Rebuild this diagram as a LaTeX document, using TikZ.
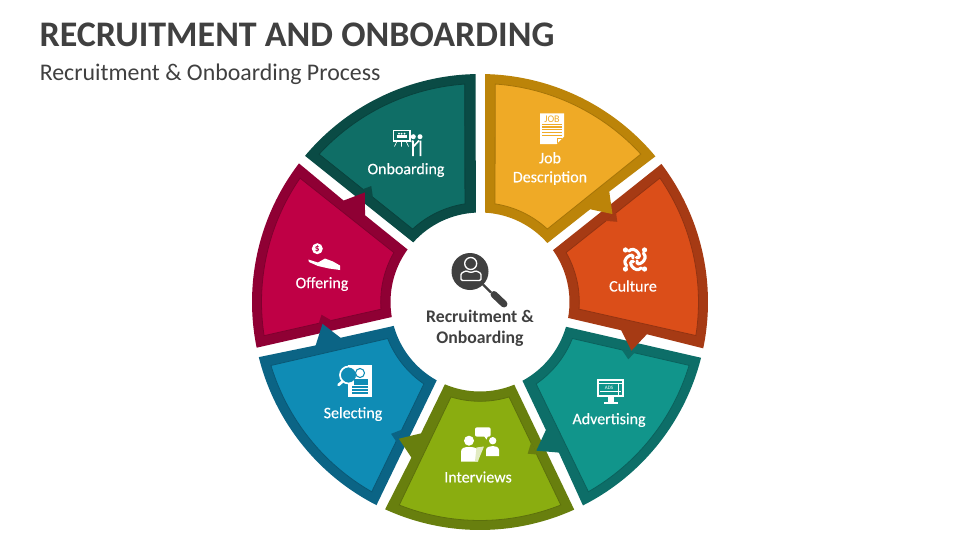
\documentclass[tikz,border=0pt]{standalone}
\usepackage{fontspec}
\setmainfont{Carlito}
\newfontfamily\segfont[FakeBold=0.3]{Carlito}
\definecolor{jobFace}{HTML}{EFAA26}
\definecolor{jobRim}{HTML}{BC8409}
\definecolor{cultureFace}{HTML}{DB4E19}
\definecolor{cultureRim}{HTML}{A63A14}
\definecolor{advertFace}{HTML}{11958B}
\definecolor{advertRim}{HTML}{0D6E68}
\definecolor{interviewFace}{HTML}{8AAD10}
\definecolor{interviewRim}{HTML}{687F0E}
\definecolor{selectFace}{HTML}{0F8CB5}
\definecolor{selectRim}{HTML}{0B6485}
\definecolor{offerFace}{HTML}{BF0045}
\definecolor{offerRim}{HTML}{8F0034}
\definecolor{onboardFace}{HTML}{0F6E66}
\definecolor{onboardRim}{HTML}{0A4B45}
\definecolor{inkGrey}{HTML}{404040}
\tikzset{every picture/.style={line width=0.75pt}}
\tikzset{
  faceEdge/.style={line width=0.6pt, line join=miter},
  segLabel/.style={inner sep=0.75pt, text=white, align=center, font=\segfont\fontsize{12}{14.25}\selectfont},
  iconFill/.style={fill=white, draw=none},
  iconLine/.style={draw=white, line cap=round}
}

\begin{document}
\begin{tikzpicture}[x=0.75pt,y=0.75pt,yscale=-1,xscale=1]
\useasboundingbox (0,0) rectangle (960,540);

%Shape: Onboarding
\begin{scope}[shift={(480,302)},rotate=308.57]
\fill [onboardRim] (-88.7:228) arc[start angle=-88.7,end angle=-39.7,radius=228] -- (-41.2:89.5) arc[start angle=-41.2,end angle=-86.8,radius=89.5] -- cycle;
\draw [faceEdge, draw=onboardRim!88!black, fill=onboardFace] (-86:218.5) arc[start angle=-86,end angle=-42.6,radius=218.5] -- (-47.3:99.3) arc[start angle=-47.3,end angle=-81.3,radius=99.3] -- cycle;
\end{scope}
%Shape: Offering
\begin{scope}[shift={(480,302)},rotate=257.14]
\fill [onboardRim] (-33.4:162.9) -- (-30.3:159) -- (-33:149) -- cycle;
\fill [offerRim] (-88.7:228) arc[start angle=-88.7,end angle=-39.7,radius=228] -- (-40.5:170) -- (-33.6:159) -- (-40.1:144) -- (-41.2:89.5) arc[start angle=-41.2,end angle=-86.8,radius=89.5] -- cycle;
\draw [faceEdge, draw=offerRim!88!black, fill=offerFace] (-86:218.5) arc[start angle=-86,end angle=-42.6,radius=218.5] -- (-47.3:99.3) arc[start angle=-47.3,end angle=-81.3,radius=99.3] -- cycle;
\end{scope}
%Shape: Selecting
\begin{scope}[shift={(480,302)},rotate=205.71]
\fill [offerRim] (-33.4:162.9) -- (-30.3:159) -- (-33:149) -- cycle;
\fill [selectRim] (-88.7:228) arc[start angle=-88.7,end angle=-39.7,radius=228] -- (-40.5:170) -- (-33.6:159) -- (-40.1:144) -- (-41.2:89.5) arc[start angle=-41.2,end angle=-86.8,radius=89.5] -- cycle;
\draw [faceEdge, draw=selectRim!88!black, fill=selectFace] (-86:218.5) arc[start angle=-86,end angle=-42.6,radius=218.5] -- (-47.3:99.3) arc[start angle=-47.3,end angle=-81.3,radius=99.3] -- cycle;
\end{scope}
%Shape: Interviews
\begin{scope}[shift={(480,302)},rotate=154.29]
\fill [selectRim] (-33.4:162.9) -- (-30.3:159) -- (-33:149) -- cycle;
\fill [interviewRim] (-88.7:228) arc[start angle=-88.7,end angle=-39.7,radius=228] -- (-40.5:170) -- (-33.6:159) -- (-40.1:144) -- (-41.2:89.5) arc[start angle=-41.2,end angle=-86.8,radius=89.5] -- cycle;
\draw [faceEdge, draw=interviewRim!88!black, fill=interviewFace] (-86:218.5) arc[start angle=-86,end angle=-42.6,radius=218.5] -- (-47.3:99.3) arc[start angle=-47.3,end angle=-81.3,radius=99.3] -- cycle;
\end{scope}
%Shape: Advertising
\begin{scope}[shift={(480,302)},rotate=102.86]
\fill [interviewRim] (-33.4:162.9) -- (-30.3:159) -- (-33:149) -- cycle;
\fill [advertRim] (-88.7:228) arc[start angle=-88.7,end angle=-39.7,radius=228] -- (-40.5:170) -- (-33.6:159) -- (-40.1:144) -- (-41.2:89.5) arc[start angle=-41.2,end angle=-86.8,radius=89.5] -- cycle;
\draw [faceEdge, draw=advertRim!88!black, fill=advertFace] (-86:218.5) arc[start angle=-86,end angle=-42.6,radius=218.5] -- (-47.3:99.3) arc[start angle=-47.3,end angle=-81.3,radius=99.3] -- cycle;
\end{scope}
%Shape: Culture
\begin{scope}[shift={(480,302)},rotate=51.43]
\fill [advertRim] (-33.4:162.9) -- (-30.3:159) -- (-33:149) -- cycle;
\fill [cultureRim] (-88.7:228) arc[start angle=-88.7,end angle=-39.7,radius=228] -- (-40.5:170) -- (-33.6:159) -- (-40.1:144) -- (-41.2:89.5) arc[start angle=-41.2,end angle=-86.8,radius=89.5] -- cycle;
\draw [faceEdge, draw=cultureRim!88!black, fill=cultureFace] (-86:218.5) arc[start angle=-86,end angle=-42.6,radius=218.5] -- (-47.3:99.3) arc[start angle=-47.3,end angle=-81.3,radius=99.3] -- cycle;
\end{scope}
%Shape: Job Description
\begin{scope}[shift={(480,302)}]
\fill [cultureRim] (-33.4:162.9) -- (-30.3:159) -- (-33:149) -- cycle;
\fill [jobRim] (-88.7:228) arc[start angle=-88.7,end angle=-39.7,radius=228] -- (-40.5:170) -- (-33.6:159) -- (-40.1:144) -- (-41.2:89.5) arc[start angle=-41.2,end angle=-86.8,radius=89.5] -- cycle;
\draw [faceEdge, draw=jobRim!88!black, fill=jobFace] (-86:218.5) arc[start angle=-86,end angle=-42.6,radius=218.5] -- (-47.3:99.3) arc[start angle=-47.3,end angle=-81.3,radius=99.3] -- cycle;
\end{scope}

%Icon: search person
\fill [inkGrey] (470,271.5) circle [radius=18.5];
\draw [inkGrey, line width=1.8pt] (483,284.5) -- (491,292.5);
\draw [inkGrey, line width=5.2pt, line cap=round] (494,294.5) -- (504,304);
\draw [white, line width=1pt] (470.7,263.5) circle [radius=6];
\draw [white, line width=1pt, rounded corners=1pt] (461,280.5) -- (461,276) .. controls (461,272.5) and (465,271.5) .. (467,270.5) .. controls (469,272.5) and (473,272.5) .. (475,270.5) .. controls (477,271.5) and (481,272.5) .. (481,276) -- (481,280.5) -- cycle;

%Icon: job sheet
\fill [iconFill] (540,113.3) -- (564,113.3) -- (564,136.5) -- (556.5,144) -- (540,144) -- cycle;
\draw [jobFace, line width=0.9pt] (542,124.3) -- (562,124.3) (542,127) -- (562,127) (542,129.7) -- (562,129.7) (542,132.4) -- (562,132.4) (542,135.1) -- (562,135.1);
\draw [jobFace, line width=0.5pt] (557,143) -- (557,138) -- (562,138);
\draw (552,118.8) node (jobWord) [inner sep=0pt] [text=jobFace, font=\fontsize{7.6}{8}\selectfont] {JOB};

%Icon: culture swirl
\begin{scope}[shift={(635,259.5)},rotate=45]
\fill [iconFill] (0:13.5) circle [radius=2.6];
\fill [iconFill] (90:13.5) circle [radius=2.6];
\fill [iconFill] (180:13.5) circle [radius=2.6];
\fill [iconFill] (270:13.5) circle [radius=2.6];
\draw [iconLine, line width=2.3pt] (8:10.5) .. controls (45:15) and (130:9) .. (80:2.5);
\draw [iconLine, line width=2.3pt] (98:10.5) .. controls (135:15) and (220:9) .. (170:2.5);
\draw [iconLine, line width=2.3pt] (188:10.5) .. controls (225:15) and (310:9) .. (260:2.5);
\draw [iconLine, line width=2.3pt] (278:10.5) .. controls (315:15) and (40:9) .. (350:2.5);
\end{scope}

%Icon: advertising monitor
\draw [white, line width=1.4pt] (598.3,380.3) rectangle (623,396);
\draw [white, line width=1pt] (598.3,383.5) -- (623,383.5);
\draw [white, line width=0.6pt] (600,391) -- (621,391) (618,383.5) -- (618,396);
\fill [iconFill] (608,397) rectangle (614,401.5);
\fill [iconFill] (604,401.5) rectangle (618,403.5);
\draw (609,387.6) node (adsWord) [inner sep=0pt] [text=white, font=\fontsize{3.8}{4}\selectfont] {ADS};

%Icon: interview people
\fill [iconFill] (469,440.7) circle [radius=5];
\fill [iconFill] (461,461.7) -- (461,452) .. controls (461,448) and (464,447) .. (469,447) .. controls (474,447) and (477,448) .. (478,450) -- (478,461.7) -- cycle;
\fill [interviewFace!25!white] (476.5,447.5) -- (484,446.5) -- (478,461) -- (475,461) -- cycle;
\fill [iconFill] (492.7,440.7) circle [radius=3.7];
\fill [iconFill] (486,456) -- (486,450) .. controls (486,447) and (490,446) .. (492.7,446) .. controls (495.5,446) and (499,447) .. (499,450) -- (499,456) -- cycle;
\fill [iconFill, rounded corners=1.5pt] (475,427.3) rectangle (490.7,436.7);
\fill [iconFill] (484,436) -- (486.5,439.5) -- (488,436) -- cycle;

%Icon: selecting sheet
\fill [iconFill] (348.3,365) rectangle (371.7,397.3);
\draw [white, line width=1.3pt, fill=selectFace] (348.5,375) circle [radius=8.5];
\draw [white, line width=2pt, line cap=round] (342.5,381.5) -- (338.5,385);
\fill [selectFace] (354,379) rectangle (368,384.5);
\draw [selectFace, line width=0.8pt, fill=white] (360,373) circle [radius=4.5];
\draw [selectFace, line width=0.8pt] (352,387) -- (368,387) (352,390) -- (368,390) (352,393) -- (368,393);

%Icon: offering hand
\fill [iconFill] (317.3,248.7) circle [radius=5.5];
\draw (317.3,248.7) node (dollarSign) [inner sep=0pt] [text=offerFace, font=\bfseries\fontsize{7}{7}\selectfont] {\$};
\fill [iconFill] (308.3,259.5) -- (318,262.5) -- (325,258.5) -- (333,261.5) -- (340,265.5) -- (340,270) -- (329,268.5) -- (318,266) -- (309,262) -- cycle;

%Icon: onboarding board
\draw [white, line width=0.8pt] (393.5,130.5) rectangle (410,141);
\draw [white, line width=0.5pt] (397,141) -- (394.5,146.5) (401.5,141) -- (401.5,146.5) (406,141) -- (408.5,146.5);
\fill [iconFill] (397,135) rectangle (406.5,137.5);
\fill [iconFill] (399,133.7) circle [radius=1] (401.7,133.7) circle [radius=1] (404.5,133.7) circle [radius=1];
\fill [iconFill] (413.3,136.7) circle [radius=2.5] (420,136.7) circle [radius=2.5];
\draw [white, line width=1.2pt] (413,140.5) -- (413,156) (420.5,140.5) -- (420.5,156) (412,140.5) -- (414,146) -- (419,140.5);

% Text Node
\draw (38,34.5) node (mainTitle) [anchor=west][inner sep=0.75pt]  [text=inkGrey, font=\bfseries\fontsize{27}{30}\selectfont] [align=left] {RECRUITMENT AND ONBOARDING};
% Text Node
\draw (38.3,74.5) node (subTitle) [anchor=west][inner sep=0.75pt]  [text=inkGrey, font=\fontsize{17.9}{21}\selectfont] [align=left] {Recruitment \& Onboarding Process};
% Text Node
\draw (480,328) node (hubLabel) [inner sep=0.75pt]  [text=inkGrey, font=\bfseries\fontsize{13.3}{16}\selectfont] [align=center] {Recruitment \&\\Onboarding};
% Text Node
\draw (550,168.5) node (jobLabel) [segLabel] {Job\\Description};
% Text Node
\draw (633,286) node (cultureLabel) [segLabel] {Culture};
% Text Node
\draw (609,420) node (advertLabel) [segLabel] {Advertising};
% Text Node
\draw (478,477) node (interviewLabel) [segLabel] {Interviews};
% Text Node
\draw (353,414) node (selectLabel) [segLabel] {Selecting};
% Text Node
\draw (322,284) node (offerLabel) [segLabel] {Offering};
% Text Node
\draw (406,170) node (onboardLabel) [segLabel] {Onboarding};

\end{tikzpicture}
\end{document}
